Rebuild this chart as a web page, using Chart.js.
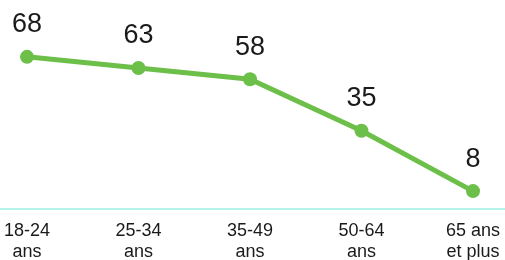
<!DOCTYPE html>
<html>
<head>
<meta charset="utf-8">
<script src="https://cdn.jsdelivr.net/npm/chart.js@4/dist/chart.umd.min.js"></script>
<style>
  html, body { margin: 0; padding: 0; background: #fff; }
  #wrap { width: 505px; height: 260px; }
</style>
</head>
<body>
<div id="wrap"><canvas id="ageChart" width="505" height="260"></canvas></div>
<script>
// age groups and values
const ageGroups = [['18-24', 'ans'], ['25-34', 'ans'], ['35-49', 'ans'], ['50-64', 'ans'], ['65 ans', 'et plus']];
const values = [68, 63, 58, 35, 8];

const lineColor = '#6cbf49';

// value labels above each point + full-width baseline
const extras = {
  id: 'extras',
  afterDatasetsDraw(chart) {
    const ctx = chart.ctx;
    const y0 = chart.scales.y.getPixelForValue(0);
    ctx.save();
    ctx.strokeStyle = '#b5f3ea';
    ctx.lineWidth = 2;
    ctx.beginPath();
    ctx.moveTo(0, y0);
    ctx.lineTo(chart.width, y0);
    ctx.stroke();

    ctx.fillStyle = '#1a1a1a';
    ctx.font = '27px "Liberation Sans", Arial, sans-serif';
    ctx.textAlign = 'center';
    ctx.textBaseline = 'middle';
    chart.getDatasetMeta(0).data.forEach(function (pt, i) {
      ctx.fillText(values[i], pt.x, pt.y - 32);
    });
    ctx.restore();
  }
};

const ctx = document.getElementById('ageChart').getContext('2d');
const ageChart = new Chart(ctx, {
  type: 'line',
  data: {
    labels: ageGroups,
    datasets: [{
      data: values,
      borderColor: lineColor,
      backgroundColor: lineColor,
      borderWidth: 5,
      pointRadius: 7,
      pointHoverRadius: 7,
      pointBackgroundColor: lineColor,
      pointBorderWidth: 0,
      tension: 0,
      fill: false
    }]
  },
  options: {
    responsive: false,
    animation: false,
    layout: { padding: { left: 27, right: 32, top: 30, bottom: 0 } },
    plugins: {
      legend: { display: false },
      tooltip: { enabled: false }
    },
    scales: {
      x: {
        offset: false,
        grid: { display: false },
        border: { display: false },
        afterFit(scale) { scale.height = 51; },
        ticks: {
          color: '#1a1a1a',
          padding: 4,
          maxRotation: 0,
          autoSkip: false,
          font: { family: '"Liberation Sans", Arial, sans-serif', size: 18, lineHeight: 1.15 }
        }
      },
      y: {
        display: false,
        min: 0,
        max: 80
      }
    }
  },
  plugins: [extras]
});
</script>
</body>
</html>
